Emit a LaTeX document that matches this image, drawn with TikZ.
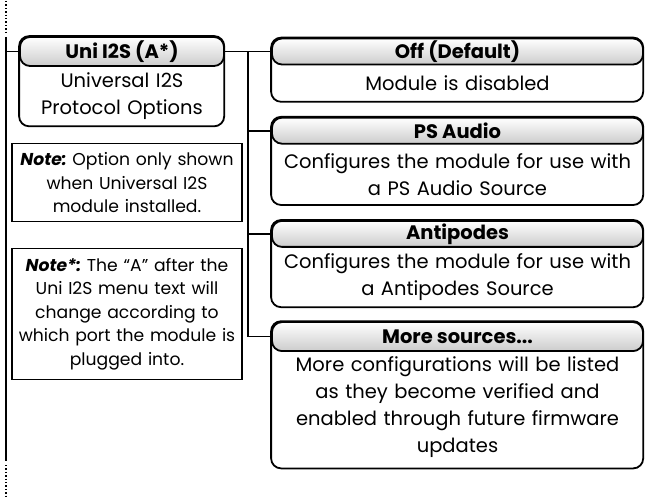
\documentclass[tikz,border=0pt]{standalone}
\usepackage{fontspec}
\setmainfont{Poppins}
\frenchspacing
\usetikzlibrary{positioning,calc}

\begin{document}
\begin{tikzpicture}[x=1pt, y=-1pt,
    node distance=15pt and 0pt,
    head/.style={rectangle, rounded corners=10pt, draw=black, line width=1.8pt, top color=white, bottom color=black!20, minimum width=371pt, minimum height=26pt, inner sep=0pt, font=\fontsize{19.5}{22}\selectfont\bfseries},
    info/.style={rectangle, inner sep=0pt, align=center, text width=371pt, minimum height=36pt, font=\fontsize{19.5}{27}\selectfont},
    frame/.style={rounded corners=10pt, draw=black, line width=1.8pt},
    note/.style={rectangle, draw=black, line width=1.1pt, align=center, text width=228pt, inner sep=1pt, font=\fontsize{17.2}{23.5}\selectfont},
    link/.style={line width=1.8pt},
    rail/.style={line width=2.4pt}
]
\useasboundingbox (0,0) rectangle (649,500);

% left rail
\coordinate (railtop) at (6,37);
\coordinate (railbot) at (6,461);
\draw[rail] (railtop) -- (railbot);
\draw[line width=1.4pt, dotted] (6,1) -- (6,34);
\draw[line width=1.4pt, dotted] (6,465) -- (6,497);

% main menu entry
\node[head, minimum width=204pt, minimum height=29pt] (unihead) at (122,51.5) {Uni I2S (A*)};
\node[info, text width=204pt, minimum height=59pt, below=0pt of unihead] (unitxt) {Universal I2S\\Protocol Options};
\draw[frame] (unihead.north west) rectangle (unitxt.south east);

% notes
\node[note, anchor=north, minimum height=78pt] (note1) at (127,143) {\textbf{\textit{Note:}} Option only shown\\when Universal I2S\\module installed.};
\node[note, below=26pt of note1, minimum height=131pt] (note2) {\textbf{\textit{Note*:}} The “A” after the\\Uni I2S menu text will\\change according to\\which port the module is\\plugged into.};

% options
\node[head] (offhead) at (457.5,51.5) {Off (Default)};
\node[info, below=0pt of offhead] (offtxt) {Module is disabled};
\draw[frame] (offhead.north west) rectangle (offtxt.south east);

\node[head, below=of offtxt] (pshead) {PS Audio};
\node[info, below=0pt of pshead, minimum height=60pt] (pstxt) {Configures the module for use with\\a PS Audio Source};
\draw[frame] (pshead.north west) rectangle (pstxt.south east);

\node[head, below=of pstxt] (antihead) {Antipodes};
\node[info, below=0pt of antihead, minimum height=59pt] (antitxt) {Configures the module for use with\\a Antipodes Source};
\draw[frame] (antihead.north west) rectangle (antitxt.south east);

\node[head, below=14pt of antitxt, minimum height=29pt] (morehead) {More sources...};
\node[info, below=0pt of morehead, minimum height=110pt] (moretxt) {More configurations will be listed\\as they become verified and\\enabled through future firmware\\updates};
\draw[frame] (morehead.north west) rectangle ([yshift=-6pt]moretxt.south east);

% connectors
\draw[link] (railtop |- unihead.west) -- (unihead.west);
\draw[link] (unihead.east) -- (offhead.west);
\coordinate (split) at ($(unihead.east)!0.5!(offhead.west)$);
\draw[link] (split) |- (pshead.west);
\draw[link] (split) |- (antihead.west);
\draw[link] (split) |- (morehead.west);
\end{tikzpicture}
\end{document}
